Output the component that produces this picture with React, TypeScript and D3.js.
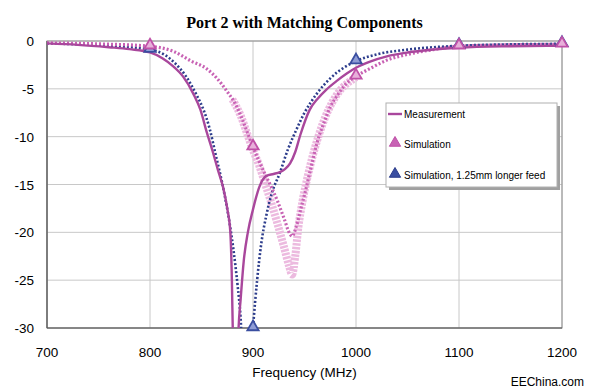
import React, { useEffect, useRef } from 'react';
import * as d3 from 'd3';

// Frequency (MHz) / return loss (dB)
const measFreq = [700, 730, 760, 780, 800, 812, 822, 832, 842, 849, 855, 861, 866, 871, 875, 878, 879.5, 880.5, 881, 885, 886, 888, 891, 895, 900, 906, 913, 920, 926, 931, 936, 941, 946, 955, 963, 971, 981, 991, 1000, 1015, 1030, 1050, 1075, 1100, 1150, 1200];
const measDb = [-0.25, -0.4, -0.65, -0.85, -1.2, -1.8, -2.6, -3.7, -5.5, -7.2, -9.5, -11.6, -13.5, -15.3, -17.5, -20, -25, -31, -33, -33, -30, -27, -23, -20, -17.6, -15.3, -14.1, -13.9, -13.7, -13.4, -12.8, -11.6, -9.8, -7.2, -6.0, -5.1, -4.2, -3.4, -2.8, -2.1, -1.6, -1.2, -0.9, -0.7, -0.55, -0.5];

const simFreq = [700, 750, 800, 823, 840, 855, 865, 875, 883, 890, 895, 900, 906, 912, 918, 924, 930, 936, 938, 942, 947, 952, 957, 962, 968, 975, 983, 991, 1000, 1015, 1030, 1050, 1075, 1100, 1150, 1200];
const simDb = [-0.2, -0.3, -0.55, -1.1, -2.1, -2.9, -3.9, -5.3, -6.6, -8.3, -9.7, -11.1, -12.6, -14.0, -15.3, -16.8, -18.5, -20.2, -20.4, -19.4, -17.3, -15.2, -12.9, -10.7, -8.8, -6.9, -5.5, -4.4, -3.7, -2.8, -2.0, -1.4, -0.9, -0.55, -0.4, -0.35];

// lighter, wider trace of the simulation (finer sweep around the dip)
const simFineFreq = [880, 888, 895, 900, 906, 912, 918, 924, 930, 935, 938, 941, 944, 948, 953, 958, 964, 970, 977, 985, 993, 1000];
const simFineDb = [-6.1, -7.8, -9.9, -11.4, -13.0, -15.0, -17.0, -19.2, -21.5, -23.5, -24.4, -22.5, -19.5, -16.8, -14.2, -12.0, -9.8, -8.0, -6.4, -5.1, -4.3, -3.8];

const feedFreq = [700, 750, 800, 815, 825, 835, 845, 852, 858, 864, 870, 876, 881, 885, 888, 890, 898, 900, 904, 908, 913, 918, 926, 934, 942, 950, 962, 975, 988, 1000, 1020, 1050, 1100, 1150, 1200];
const feedDb = [-0.25, -0.45, -0.9, -1.5, -2.4, -3.7, -5.6, -7.2, -9.2, -12.0, -14.8, -18.2, -21.8, -25.5, -29, -33, -33, -30, -25, -21.2, -18.2, -16, -13.8, -11.3, -9.3, -7.5, -5.5, -3.9, -2.8, -2.1, -1.4, -0.9, -0.5, -0.35, -0.3];

const markerFreq = [800, 900, 1000, 1100, 1200];
const simMarkerDb = [-0.55, -11.1, -3.7, -0.55, -0.35];
const feedMarkerDb = [-0.9, -30, -2.1, -0.5, -0.3];

const xTicks = [700, 800, 900, 1000, 1100, 1200];
const yTicks = [0, -5, -10, -15, -20, -25, -30];

const legendLabels = ['Measurement', 'Simulation', 'Simulation, 1.25mm longer feed'];

const App: React.FC = () => {
  const svgRef = useRef<SVGSVGElement>(null);

  useEffect(() => {
    if (!svgRef.current) return;
    const svg = d3.select(svgRef.current);
    svg.selectAll('*').remove();

    const width = 590;
    const height = 392;
    const margin = { top: 41, right: 28, bottom: 64, left: 47 };
    const sans = 'Liberation Sans, Arial, sans-serif';

    const x = d3.scaleLinear().domain([700, 1200]).range([margin.left, width - margin.right]);
    const y = d3.scaleLinear().domain([-30, 0]).range([height - margin.bottom, margin.top]);

    svg.append('rect').attr('width', width).attr('height', height).attr('fill', '#fff');

    // title
    svg.append('text')
      .attr('x', (margin.left + width - margin.right) / 2)
      .attr('y', 28)
      .attr('text-anchor', 'middle')
      .style('font-family', 'Liberation Serif, Times New Roman, serif')
      .style('font-weight', 'bold')
      .style('font-size', '16px')
      .text('Port 2 with Matching Components');

    // grid
    const grid = svg.append('g');
    yTicks.forEach(t => {
      grid.append('line')
        .attr('x1', x(700)).attr('x2', x(1200))
        .attr('y1', y(t)).attr('y2', y(t))
        .attr('stroke', '#c8c8c8').attr('stroke-width', 1);
    });
    xTicks.forEach(t => {
      grid.append('line')
        .attr('x1', x(t)).attr('x2', x(t))
        .attr('y1', y(0)).attr('y2', y(-30))
        .attr('stroke', '#c8c8c8').attr('stroke-width', 1);
    });
    svg.append('rect')
      .attr('x', x(700)).attr('y', y(0))
      .attr('width', x(1200) - x(700)).attr('height', y(-30) - y(0))
      .attr('fill', 'none').attr('stroke', '#909090').attr('stroke-width', 1);
    svg.append('line')
      .attr('x1', x(700)).attr('x2', x(700)).attr('y1', y(0)).attr('y2', y(-30))
      .attr('stroke', '#555').attr('stroke-width', 1.2);
    svg.append('line')
      .attr('x1', x(700)).attr('x2', x(1200)).attr('y1', y(-30)).attr('y2', y(-30))
      .attr('stroke', '#555').attr('stroke-width', 1.2);

    // tick labels
    yTicks.forEach(t => {
      svg.append('text')
        .attr('x', 34).attr('y', y(t) + 5)
        .attr('text-anchor', 'end')
        .style('font-family', sans).style('font-size', '13.5px')
        .text(String(t));
    });
    xTicks.forEach(t => {
      svg.append('text')
        .attr('x', x(t)).attr('y', 357)
        .attr('text-anchor', 'middle')
        .style('font-family', sans).style('font-size', '13.5px')
        .text(String(t));
    });
    svg.append('text')
      .attr('x', (margin.left + width - margin.right) / 2).attr('y', 377)
      .attr('text-anchor', 'middle')
      .style('font-family', sans).style('font-size', '13.5px')
      .text('Frequency (MHz)');
    svg.append('text')
      .attr('x', 584).attr('y', 386)
      .attr('text-anchor', 'end')
      .style('font-family', sans).style('font-size', '12px')
      .text('EEChina.com');

    // series, clipped to the plot
    svg.append('clipPath').attr('id', 'plotClip')
      .append('rect')
      .attr('x', x(700)).attr('y', y(0) - 6)
      .attr('width', x(1200) - x(700) + 4).attr('height', y(-30) - y(0) + 6);

    const plot = svg.append('g').attr('clip-path', 'url(#plotClip)');
    const line = d3.line<[number, number]>()
      .x(d => x(d[0]))
      .y(d => y(d[1]))
      .curve(d3.curveMonotoneX);
    const zip = (fs: number[], vs: number[]) => fs.map((f, i) => [f, vs[i]] as [number, number]);

    plot.append('path')
      .attr('d', line(zip(simFineFreq, simFineDb)))
      .attr('fill', 'none').attr('stroke', '#ecbadf').attr('stroke-width', 8)
      .attr('stroke-dasharray', '2.5,1.2');
    plot.append('path')
      .attr('d', line(zip(feedFreq, feedDb)))
      .attr('fill', 'none').attr('stroke', '#2d3d8c').attr('stroke-width', 2.6)
      .attr('stroke-dasharray', '2,2');
    plot.append('path')
      .attr('d', line(zip(simFreq, simDb)))
      .attr('fill', 'none').attr('stroke', '#c862b4').attr('stroke-width', 3.2)
      .attr('stroke-dasharray', '2,2');
    plot.append('path')
      .attr('d', line(zip(measFreq, measDb)))
      .attr('fill', 'none').attr('stroke', '#a9479c').attr('stroke-width', 2.4);

    const tri = d3.symbol().type(d3.symbolTriangle).size(55);
    const drawMarkers = (vals: number[], stroke: string, fill: string) => {
      markerFreq.forEach((f, i) => {
        svg.append('path')
          .attr('d', tri())
          .attr('transform', `translate(${x(f)},${y(vals[i]) - 1})`)
          .attr('fill', fill).attr('stroke', stroke).attr('stroke-width', 1.8);
      });
    };
    drawMarkers(feedMarkerDb, '#3a4ea0', '#8e9cd6');
    drawMarkers(simMarkerDb, '#c051a8', '#e8b0da');

    // legend
    const lg = { x: 386, y: 103, w: 171, h: 84 };
    svg.append('rect')
      .attr('x', lg.x + 3).attr('y', lg.y + 3).attr('width', lg.w).attr('height', lg.h)
      .attr('fill', '#a0a0a0');
    svg.append('rect')
      .attr('x', lg.x).attr('y', lg.y).attr('width', lg.w).attr('height', lg.h)
      .attr('fill', '#fff').attr('stroke', '#b0b0b0').attr('stroke-width', 1);
    const rows = [114, 144, 175];
    svg.append('line')
      .attr('x1', lg.x + 2).attr('x2', lg.x + 16).attr('y1', rows[0]).attr('y2', rows[0])
      .attr('stroke', '#a9479c').attr('stroke-width', 2.4);
    svg.append('path').attr('d', tri())
      .attr('transform', `translate(${lg.x + 9},${rows[1] - 1})`)
      .attr('fill', '#c862b4').attr('stroke', '#c051a8').attr('stroke-width', 1);
    svg.append('path').attr('d', tri())
      .attr('transform', `translate(${lg.x + 9},${rows[2] - 1})`)
      .attr('fill', '#3a4ea0').attr('stroke', '#2d3d8c').attr('stroke-width', 1);
    legendLabels.forEach((l, i) => {
      svg.append('text')
        .attr('x', lg.x + 18).attr('y', rows[i] + 3.5)
        .style('font-family', sans).style('font-size', '10px')
        .text(l);
    });
  }, []);

  return (
    <svg
      ref={svgRef}
      width={590}
      height={392}
      style={{ position: 'absolute', left: 0, top: 0, display: 'block' }}
    />
  );
};

export default App;
